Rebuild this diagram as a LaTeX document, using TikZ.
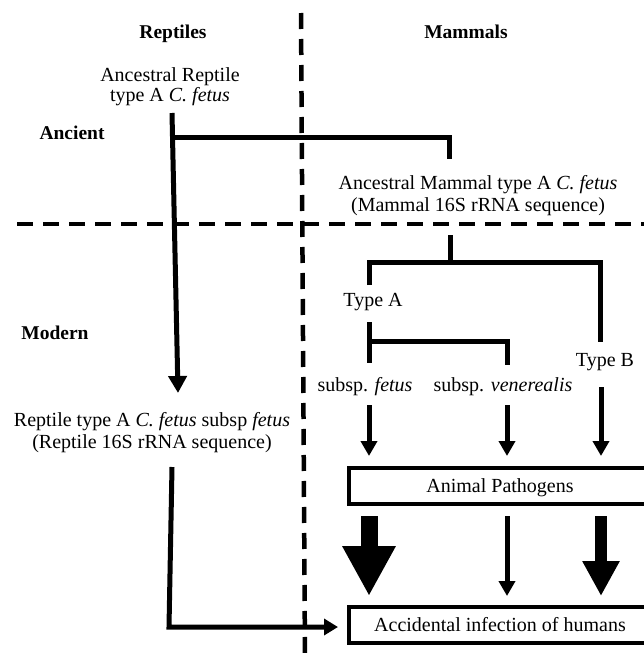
\documentclass[tikz,border=0pt]{standalone}
\usepackage{fontspec}
\setmainfont{Liberation Serif}
\usetikzlibrary{arrows.meta}
\begin{document}
\begin{tikzpicture}[x=1pt,y=-1pt,
  every node/.style={inner sep=0pt, outer sep=0pt, font=\fontsize{20}{22}\selectfont},
  lbl/.style={anchor=base},
  hdr/.style={anchor=base, font=\fontsize{19.5}{22}\selectfont\bfseries},
  tree/.style={line width=5pt},
  divider/.style={line width=4.5pt, dash pattern=on 16pt off 10pt},
  sarr/.style={line width=5pt, -{Triangle[width=16pt,length=15pt]}},
  midarr/.style={line width=5pt, -{Triangle[width=16pt,length=15pt]}},
  bigarr/.style={line width=17pt, -{Triangle[width=50pt,length=50pt]}},
  medarr/.style={line width=12pt, -{Triangle[width=35pt,length=35pt]}},
  box/.style={draw, line width=4pt, minimum width=302pt, minimum height=36pt, text height=13pt, text depth=0pt}
]
\useasboundingbox (0,0) rectangle (644,653);
\clip (0,0) rectangle (644,653);

% dividers
\coordinate (vtop) at (301,13);
\coordinate (vbot) at (305,660);
\coordinate (hl) at (17,224);
\coordinate (hr) at (660,224);
\draw[divider] (vtop) -- (vbot);
\draw[divider] (hl) -- (hr);

% headers
\node[hdr] (rep) at (173,38) {Reptiles};
\node[hdr] (mam) at (466,38) {Mammals};
\node[hdr] (anc) at (72,139) {Ancient};
\node[hdr] (mod) at (55,339) {Modern};

% labels
\node[lbl] (ar1) at (170,81) {Ancestral Reptile};
\node[lbl] (ar2) at (170,101) {type A \textit{C. fetus}};
\node[lbl] (am1) at (478,189) {Ancestral Mammal type A \textit{C. fetus}};
\node[lbl] (am2) at (478,211) {(Mammal 16S rRNA sequence)};
\node[lbl] (ta) at (373,306) {Type A};
\node[lbl] (tb) at (605,366) {Type B};
\node[lbl] (sf) at (365,391) {subsp. \textit{fetus}};
\node[lbl] (sv) at (503,391) {subsp. \textit{venerealis}};
\node[lbl] (rt1) at (152,426) {Reptile type A \textit{C. fetus} subsp \textit{fetus}};
\node[lbl] (rt2) at (152,448) {(Reptile 16S rRNA sequence)};

% boxes
\node[box] (ap) at (500,486) {Animal Pathogens};
\node[box] (ai) at (500,625) {Accidental infection of humans};

% ancient tree
\coordinate (r0) at (172,113);
\coordinate (rj) at (173,137);
\coordinate (mj) at (449,137);
\coordinate (m0) at (449,159);
\coordinate (rtip) at (178,393);
\draw[tree] (rj) -- (mj) -- (m0);
\draw[tree, -{Triangle[width=18pt,length=17pt]}] (r0) -- (rtip);

% mammal tree
\coordinate (ms0) at (450,235);
\coordinate (ms1) at (450,262);
\coordinate (ta0) at (369,285);
\coordinate (ta1) at (369,262);
\coordinate (tb1) at (600,262);
\coordinate (tb0) at (600,342);
\draw[tree] (ms0) -- (ms1);
\draw[tree] (ta0) -- (ta1) -- (tb1) -- (tb0);

% type A subtree
\coordinate (sa0) at (369,322);
\coordinate (sa1) at (369,363);
\coordinate (sj) at (369,341);
\coordinate (sv1) at (507,341);
\coordinate (sv0) at (507,365);
\draw[tree] (sa0) -- (sa1);
\draw[tree] (sj) -- (sv1) -- (sv0);

% arrows into Animal Pathogens
\coordinate (colA) at (369,405);
\coordinate (colV) at (507,405);
\coordinate (colB) at (601,387);
\draw[sarr, shorten >=12pt] (colA) -- (ap.north -| colA);
\draw[sarr, shorten >=12pt] (colV) -- (ap.north -| colV);
\draw[sarr, shorten >=12pt] (colB) -- (ap.north -| colB);

% arrows into Accidental infection
\draw[bigarr, shorten <=12pt, shorten >=11pt] (ap.south -| colA) -- (ai.north -| colA);
\draw[midarr, shorten <=12pt, shorten >=11pt] (ap.south -| colV) -- (ai.north -| colV);
\draw[medarr, shorten <=12pt, shorten >=11pt] (ap.south -| colB) -- (ai.north -| colB);

% reptile route to humans
\coordinate (l0) at (172,467);
\coordinate (l1) at (169,627);
\draw[tree, -{Triangle[width=16pt,length=14pt]}, shorten >=11pt] (l0) -- (l1) -- (ai.west |- l1);
\end{tikzpicture}
\end{document}
